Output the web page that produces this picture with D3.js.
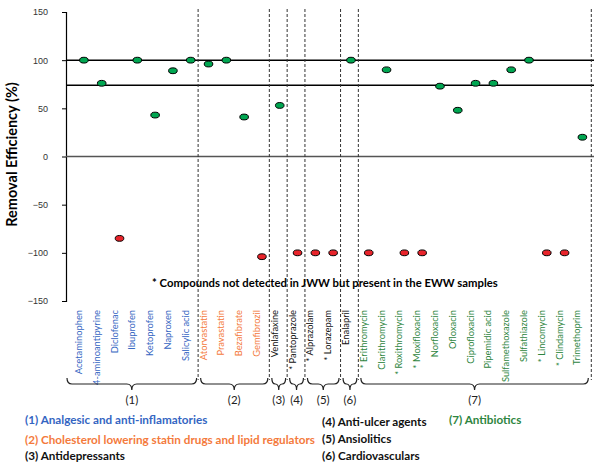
<!DOCTYPE html>
<html>
<head>
<meta charset="utf-8">
<title>Removal efficiency</title>
<style>
  body { margin: 0; background: #fff; }
  svg { font-family: Lato, "Open Sans", sans-serif; }
  .xlab { font-size: 9.3px; }
  .ytick text { font-size: 9px; fill: #333; }
  .legend { font-size: 11.7px; font-weight: bold; }
</style>
</head>
<body>
<div id="chart"></div>
<script src="https://cdn.jsdelivr.net/npm/d3@7"></script>
<script>
// compounds, in plotting order
var compounds = ["Acetaminophen", "4-aminoantipyrine", "Diclofenac", "Ibuprofen", "Ketoprofen", "Naproxen", "Salicylic acid",
  "Atorvastatin", "Pravastatin", "Bezafibrate", "Gemfibrozil",
  "Venlafaxine",
  "* Pantoprazole",
  "* Alprazolam", "* Lorazepam",
  "Enalapril",
  "* Erithromycin", "Clarithromycin", "* Roxithromycin", "* Moxifloxacin", "Norfloxacin", "Ofloxacin", "Ciprofloxacin",
  "Pipemidic acid", "Sulfamethoxazole", "Sulfathiazole", "* Lincomycin", "* Clindamycin", "Trimethoprim"];
// group number of each compound
var groupOf = [1,1,1,1,1,1,1, 2,2,2,2, 3, 4, 5,5, 6, 7,7,7,7,7,7,7,7,7,7,7,7,7];
// removal efficiency (%)
var efficiency = [100, 76, -85, 100, 43, 89, 100,
  96, 100, 41, -104,
  53,
  -100,
  -100, -100,
  100,
  -100, 90, -100, -100, 73, 48, 76, 76, 90, 100, -100, -100, 20];
var yTicks = [150, 100, 50, 0, -50, -100, -150];
var refLines = [100, 74];
var groupNames = ["(1) Analgesic and anti-inflamatories",
  "(2) Cholesterol lowering statin drugs and lipid regulators",
  "(3) Antidepressants", "(4) Anti-ulcer agents", "(5) Ansiolitics",
  "(6) Cardiovasculars", "(7) Antibiotics"];
var groupColors = ["#3465c2", "#f47a3c", "#111", "#111", "#111", "#111", "#2e8540"];
var footnote = "* Compounds not detected in JWW but present in the EWW samples";

var width = 594, height = 463;
var axisX = 66;

var svg = d3.select("#chart").append("svg")
  .attr("width", width).attr("height", height);

var x = d3.scaleBand().domain(compounds).range([75, 591.3]).padding(0);
var y = d3.scaleLinear().domain([-150, 150]).range([301, 12]);
var bw = x.bandwidth();

// y axis
var yAxis = svg.append("g").attr("class", "ytick")
  .attr("transform", "translate(" + axisX + ",0)")
  .call(d3.axisLeft(y).tickValues(yTicks).tickSize(4).tickPadding(14));
yAxis.select(".domain").attr("stroke", "#000").attr("stroke-width", 1.2);
yAxis.selectAll(".tick line").attr("stroke", "#000");

svg.append("text")
  .attr("transform", "translate(17," + (y(0) - 2) + ") rotate(-90)")
  .attr("text-anchor", "middle")
  .attr("font-size", 14.5).attr("font-weight", "bold")
  .text("Removal Efficiency (%)");

// zero line and reference lines
svg.append("line")
  .attr("x1", axisX).attr("x2", width)
  .attr("y1", y(0)).attr("y2", y(0))
  .attr("stroke", "#555").attr("stroke-width", 1.5);
svg.selectAll(".ref").data(refLines).enter().append("line")
  .attr("x1", axisX).attr("x2", width)
  .attr("y1", d => y(d)).attr("y2", d => y(d))
  .attr("stroke", "#000").attr("stroke-width", 1.5);

// group extents
var groups = d3.range(1, 8).map(function(g) {
  var idx = d3.range(compounds.length).filter(i => groupOf[i] === g);
  var first = compounds[idx[0]], last = compounds[idx[idx.length - 1]];
  return { g: g, x0: x(first), x1: x(last) + bw };
});

// dashed separators
var seps = groups.slice(1).map(d => d.x0 - 1.5).concat([groups[6].x1]);
svg.selectAll(".sep").data(seps).enter().append("line")
  .attr("x1", d => d).attr("x2", d => d)
  .attr("y1", 9).attr("y2", 380)
  .attr("stroke", "#333").attr("stroke-width", 1)
  .attr("stroke-dasharray", "3,2");

// footnote
svg.append("text")
  .attr("x", 152).attr("y", 287)
  .attr("font-size", 11.3).attr("font-weight", "bold")
  .text(footnote);

// points
svg.selectAll(".pt").data(compounds).enter().append("ellipse")
  .attr("cx", d => x(d) + bw / 2)
  .attr("cy", (d, i) => y(efficiency[i]))
  .attr("rx", 4.3).attr("ry", 2.9)
  .attr("fill", (d, i) => efficiency[i] < 0 ? "#e8242b" : "#00a651")
  .attr("stroke", "#000").attr("stroke-width", 1);

// compound labels
svg.selectAll(".xlab").data(compounds).enter().append("text")
  .attr("class", "xlab")
  .attr("text-anchor", "end")
  .attr("transform", d => "translate(" + (x(d) + bw / 2 - 2) + ",310) rotate(-90)")
  .attr("fill", (d, i) => groupColors[groupOf[i] - 1])
  .text(d => d);

// braces
function brace(x0, x1, top, depth) {
  var m = (x0 + x1) / 2, r = Math.min(5, (x1 - x0) / 4), h = depth / 2;
  return "M" + x0 + "," + top +
    " Q" + x0 + "," + (top + h) + " " + (x0 + r) + "," + (top + h) +
    " L" + (m - r) + "," + (top + h) +
    " Q" + m + "," + (top + h) + " " + m + "," + (top + depth) +
    " Q" + m + "," + (top + h) + " " + (m + r) + "," + (top + h) +
    " L" + (x1 - r) + "," + (top + h) +
    " Q" + x1 + "," + (top + h) + " " + x1 + "," + top;
}
groups[0].x0 = axisX;
svg.selectAll(".brace").data(groups).enter().append("path")
  .attr("d", d => brace(d.x0 + 1, d.x1 - 3, 378, 12))
  .attr("fill", "none").attr("stroke", "#222").attr("stroke-width", 1.2);
svg.selectAll(".gnum").data(groups).enter().append("text")
  .attr("x", d => (d.x0 + d.x1) / 2 - 1)
  .attr("y", 404)
  .attr("text-anchor", "middle")
  .attr("font-size", 11.5).attr("fill", "#222")
  .text(d => "(" + d.g + ")");

// legend
var legPos = [[25, 424], [25, 444], [25, 460], [322, 426], [322, 443], [322, 460], [449, 424]];
svg.selectAll(".legend").data(groupNames).enter().append("text")
  .attr("class", "legend")
  .attr("x", (d, i) => legPos[i][0]).attr("y", (d, i) => legPos[i][1])
  .attr("fill", (d, i) => groupColors[i])
  .text(d => d);
</script>
</body>
</html>
